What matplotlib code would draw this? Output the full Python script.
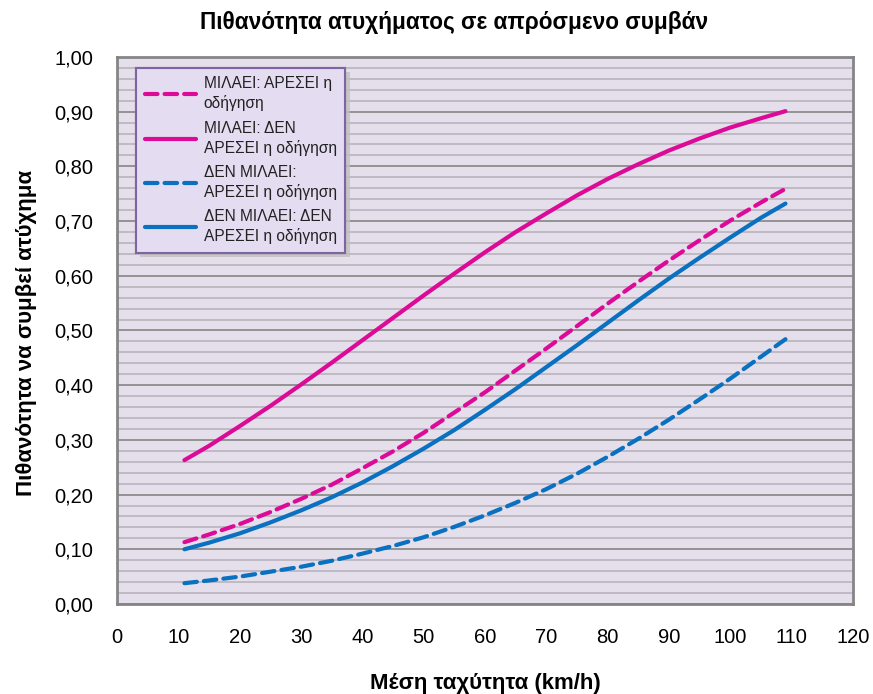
import matplotlib
matplotlib.use("Agg")
import matplotlib.pyplot as plt
from matplotlib.ticker import MultipleLocator, FuncFormatter
import matplotlib.patheffects as pe

plt.rcParams['font.family'] = ['Liberation Sans', 'DejaVu Sans']

speed = [11, 15, 20, 25, 30, 35, 40, 45, 50, 55, 60, 65, 70, 75, 80, 85, 90, 95, 100, 105, 109]
talk_like = [0.113, 0.127, 0.146, 0.168, 0.192, 0.218, 0.248, 0.279, 0.313, 0.350, 0.387,
             0.427, 0.467, 0.508, 0.549, 0.589, 0.628, 0.665, 0.701, 0.734, 0.759]
talk_dislike = [0.263, 0.289, 0.325, 0.362, 0.401, 0.441, 0.482, 0.523, 0.564, 0.604, 0.643,
                0.680, 0.714, 0.747, 0.777, 0.804, 0.829, 0.851, 0.871, 0.888, 0.901]
notalk_like = [0.038, 0.043, 0.050, 0.059, 0.068, 0.079, 0.092, 0.106, 0.122, 0.141, 0.162,
               0.185, 0.210, 0.238, 0.269, 0.302, 0.337, 0.374, 0.412, 0.452, 0.484]
notalk_dislike = [0.100, 0.112, 0.129, 0.149, 0.171, 0.195, 0.222, 0.252, 0.284, 0.318, 0.355,
                  0.393, 0.433, 0.473, 0.514, 0.555, 0.595, 0.633, 0.670, 0.706, 0.732]
labels = ["ΜΙΛΑΕΙ: ΑΡΕΣΕΙ η\nοδήγηση", "ΜΙΛΑΕΙ: ΔΕΝ\nΑΡΕΣΕΙ η οδήγηση",
          "ΔΕΝ ΜΙΛΑΕΙ:\nΑΡΕΣΕΙ η οδήγηση", "ΔΕΝ ΜΙΛΑΕΙ: ΔΕΝ\nΑΡΕΣΕΙ η οδήγηση"]

magenta = "#DC0A96"
blue = "#0A70C0"

fig = plt.figure(figsize=(8.73, 6.94), dpi=100)
ax = fig.add_axes([0.134, 0.1297, 0.843, 0.7882])
ax.set_facecolor("#E5DFEC")

dash = (0, (3.0, 1.7))
lw = 3.0
ax.plot(speed, talk_like, color=magenta, lw=lw, ls=dash, label=labels[0], solid_capstyle='round', dash_capstyle='round')
ax.plot(speed, talk_dislike, color=magenta, lw=lw, label=labels[1], solid_capstyle='round')
ax.plot(speed, notalk_like, color=blue, lw=lw, ls=dash, label=labels[2], dash_capstyle='round')
ax.plot(speed, notalk_dislike, color=blue, lw=lw, label=labels[3], solid_capstyle='round')

ax.set_xlim(0, 120)
ax.set_ylim(0, 1.0)
ax.xaxis.set_major_locator(MultipleLocator(10))
ax.yaxis.set_major_locator(MultipleLocator(0.1))
ax.yaxis.set_minor_locator(MultipleLocator(0.02))
ax.yaxis.set_major_formatter(FuncFormatter(lambda v, p: f"{v:.2f}".replace('.', ',')))
ax.grid(which='major', axis='y', color='#8C8C8C', lw=1.3, zorder=0)
ax.grid(which='minor', axis='y', color='#B4B0B8', lw=1.1, zorder=0)
ax.set_axisbelow(True)
ax.tick_params(which='both', length=0, labelsize=14.5, colors='black')
ax.tick_params(axis='y', pad=17)
ax.tick_params(axis='x', pad=17)
for s in ax.spines.values():
    s.set_color('#858585')
    s.set_linewidth(2)

fig.text(0.52, 0.968, "Πιθανότητα ατυχήματος σε απρόσμενο συμβάν", fontsize=16.3,
         fontweight='bold', ha='center', va='center')
fig.text(485 / 873, 1 - 683 / 694, "Μέση ταχύτητα (km/h)", fontsize=16,
         fontweight='bold', ha='center', va='center')
fig.text(27 / 873, 1 - 333 / 694, "Πιθανότητα να συμβεί ατύχημα", fontsize=16,
         fontweight='bold', ha='center', va='center', rotation=90)

leg = ax.legend(loc='upper left', bbox_to_anchor=(0.026, 0.98), fontsize=11.2, frameon=True,
                fancybox=False, handlelength=3.3, labelspacing=0.6, borderpad=0.55,
                borderaxespad=0, handletextpad=0.5, shadow=False)
fr = leg.get_frame()
fr.set_facecolor("#E4DCF0")
fr.set_edgecolor("#8064A2")
fr.set_linewidth(1.5)
fr.set_alpha(1)
fr.set_path_effects([pe.withSimplePatchShadow(offset=(3, -3), shadow_rgbFace='#BFBFBF', alpha=0.8), pe.Normal()])
for t in leg.get_texts():
    t.set_color('#222222')
    t.set_linespacing(1.3)

fig.savefig("out.png", dpi=100)
